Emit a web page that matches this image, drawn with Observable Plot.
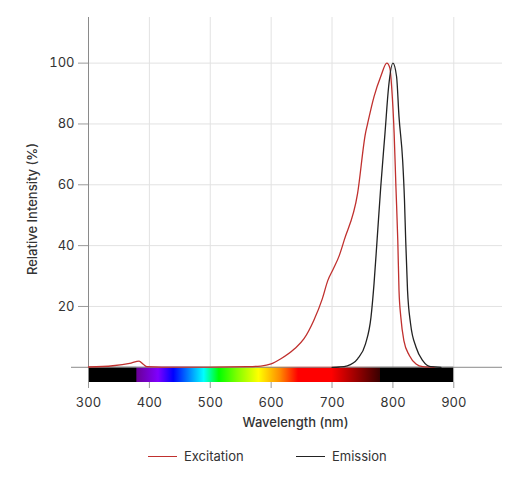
<!DOCTYPE html>
<html>
<head>
<meta charset="utf-8">
<script src="https://cdn.jsdelivr.net/npm/d3@7"></script>
<script src="https://cdn.jsdelivr.net/npm/@observablehq/plot@0.6"></script>
<style>
  body { margin: 0; background: #fff; font-family: Inter, "Noto Sans", sans-serif; }
  #chart { width: 525px; }
  .legend { position: relative; height: 38px; font-size: 13px; color: #333; }
  .legend .item { position: absolute; top: 7px; display: flex; align-items: center; height: 18px; }
  .legend .swatch { width: 29px; height: 0; border-top: 1.3px solid; margin-right: 7px; }
</style>
</head>
<body>
<div id="chart"></div>
<script>
// valores
const excitationNm  = [300, 340, 370, 383, 390, 396, 420, 500, 560, 583, 600, 616, 638, 654, 670, 684, 693, 702, 712, 720, 742, 755, 758, 769, 780, 790, 795, 798, 802, 805, 808, 810, 813, 818, 827, 838, 849, 868]
const excitationVal = [0.1, 0.5, 1.4, 2.0, 1.0, 0.2, 0.05, 0.05, 0.2, 0.4, 1.1, 2.8, 6.0, 9.4, 15.4, 22.5, 28.5, 32.3, 36.8, 41.8, 57.2, 77, 79.7, 89, 95.6, 100, 98.4, 92, 77, 59, 41.8, 25.3, 16.5, 8.8, 3.9, 1.1, 0.2, 0]

const emissionNm  = [700, 712, 725, 742, 755, 764, 769, 774, 780, 787, 793, 800, 806, 810, 816, 819, 821, 824, 829, 838, 849, 862, 879]
const emissionVal = [0, 0.1, 0.5, 2.8, 7.7, 16.5, 27.5, 41.8, 59.3, 77, 92.3, 100, 95.6, 82.4, 68, 55, 41.8, 25.3, 14.3, 6.6, 2.2, 0.2, 0]

const seriesNames  = ["Excitation", "Emission"]
const seriesColors = ["#c0302e", "#222222"]

const xTicks = [300, 400, 500, 600, 700, 800, 900]
const yTicks = [20, 40, 60, 80, 100]

// barra del espectro visible
const spectrumNm     = [300, 379, 380, 415, 440, 475, 490, 515, 545, 580, 615, 645, 700, 779, 780, 900]
const spectrumColors = ["#000", "#000", "#6a0096", "#7f00ff", "#0000ff", "#00b4ff", "#00ffff", "#00ff00", "#80ff00", "#ffff00", "#ff8c00", "#ff0000", "#ff0000", "#3a0000", "#000", "#000"]

const excitation = excitationNm.map((nm, i) => ({nm, value: excitationVal[i]}))
const emission = emissionNm.map((nm, i) => ({nm, value: emissionVal[i]}))
const spectrum = [{x1: spectrumNm[0], x2: spectrumNm[spectrumNm.length - 1]}]

let chart = Plot.plot({
  width: 525,
  height: 440,
  marginLeft: 88,
  marginRight: 23,
  marginTop: 17,
  marginBottom: 58,
  style: { fontFamily: "Inter, 'Noto Sans', sans-serif", fontSize: "13px", background: "#fff" },
  x: { domain: [300, 980] },
  y: { domain: [-5, 115] },
  marks: [
    Plot.ruleX(xTicks.slice(1), { stroke: "#e2e2e2" }),
    Plot.ruleY(yTicks, { stroke: "#e2e2e2" }),
    Plot.rect(spectrum, { x1: "x1", x2: "x2", y1: -5, y2: 0, fill: "url(#spectrum)" }),
    Plot.ruleY([0], { stroke: "#8a8a8a", insetLeft: -17 }),
    Plot.ruleX([300], { stroke: "#8a8a8a" }),
    Plot.axisX(xTicks, { tickSize: 6, tickPadding: 9, stroke: "#9a9a9a", fill: "#333", fontSize: 13, label: null }),
    Plot.axisY(yTicks, { tickSize: 10, tickPadding: 4, stroke: "#9a9a9a", fill: "#333", fontSize: 13, label: null }),
    Plot.text(["Relative Intensity (%)"], { text: d => d, frameAnchor: "left", textAnchor: "middle", lineAnchor: "middle", rotate: -90, dx: -56, dy: 9, fontSize: 13, fontWeight: 500, fill: "#333" }),
    Plot.text(["Wavelength (nm)"], { text: d => d, frameAnchor: "bottom", textAnchor: "middle", lineAnchor: "middle", dy: 40, fontSize: 13, fontWeight: 500, fill: "#333" }),
    Plot.line(excitation, { x: "nm", y: "value", stroke: seriesColors[0], strokeWidth: 1.3, curve: "monotone-x" }),
    Plot.line(emission, { x: "nm", y: "value", stroke: seriesColors[1], strokeWidth: 1.3, curve: "monotone-x" })
  ]
})

// degradado del espectro
const grad = d3.select(chart).insert("defs", ":first-child")
  .append("linearGradient").attr("id", "spectrum")
  .attr("x1", "0%").attr("x2", "100%").attr("y1", "0%").attr("y2", "0%")
const lo = spectrumNm[0], hi = spectrumNm[spectrumNm.length - 1]
spectrumNm.forEach((nm, i) => {
  grad.append("stop").attr("offset", ((nm - lo) / (hi - lo) * 100) + "%").attr("stop-color", spectrumColors[i])
})

d3.select('#chart').append(() => chart)

// leyenda
const legend = d3.select('#chart').append("div").attr("class", "legend")
const legendLeft = [148, 296]
seriesNames.forEach((name, i) => {
  const item = legend.append("div").attr("class", "item").style("left", legendLeft[i] + "px")
  item.append("div").attr("class", "swatch").style("border-color", seriesColors[i])
  item.append("span").text(name)
})
</script>
</body>
</html>
